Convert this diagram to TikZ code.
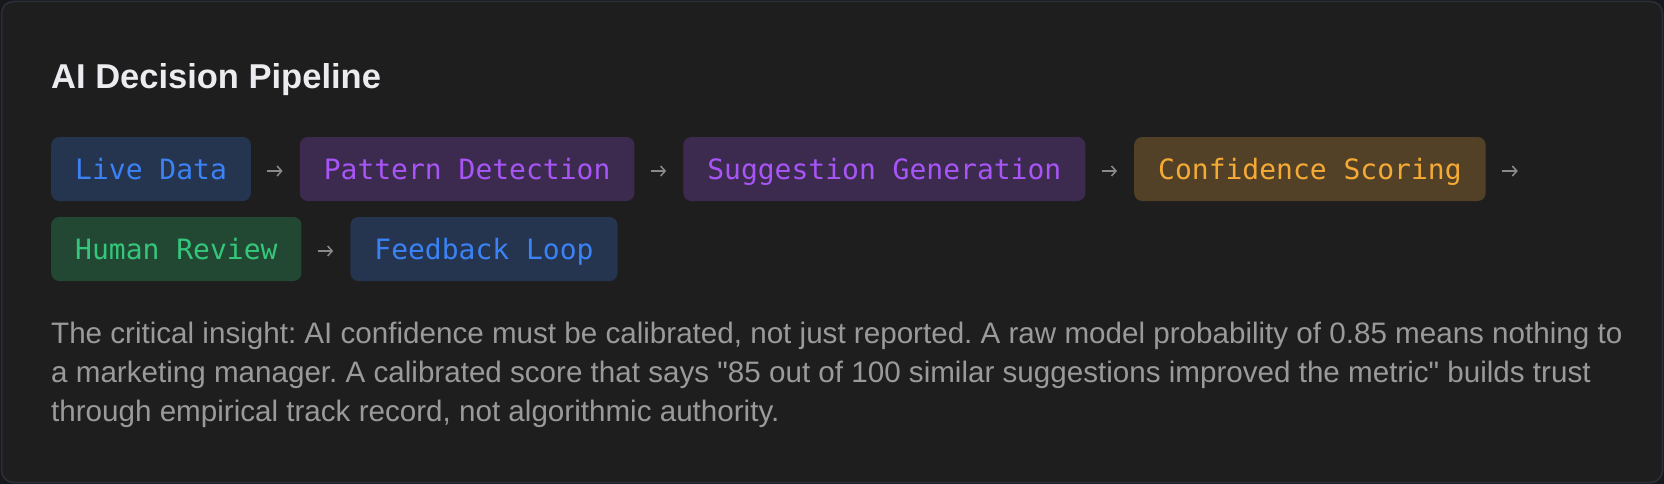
\documentclass[tikz,border=0pt]{standalone}
\usepackage{fontspec}
\setmainfont{Liberation Sans}
\newfontfamily\stagefont{DejaVu Sans Mono}
\usetikzlibrary{positioning,arrows.meta}
\frenchspacing

\definecolor{pagebg}{HTML}{16181C}
\definecolor{cardbg}{HTML}{1E1E1E}
\definecolor{cardline}{HTML}{2C2F36}
\definecolor{titlecol}{HTML}{ECECF0}
\definecolor{bodycol}{HTML}{9A9A9A}
\definecolor{arrowcol}{HTML}{8A8A8A}
\definecolor{bluebg}{HTML}{253550}
\definecolor{bluefg}{HTML}{3B82F6}
\definecolor{purplebg}{HTML}{3D2B4F}
\definecolor{purplefg}{HTML}{A855F7}
\definecolor{amberbg}{HTML}{524127}
\definecolor{amberfg}{HTML}{F5AA35}
\definecolor{greenbg}{HTML}{224833}
\definecolor{greenfg}{HTML}{34C77B}

\begin{document}
\begin{tikzpicture}[x=1pt, y=-1pt, node distance=48.5pt,
	stage/.style={rounded corners=8pt, anchor=west, inner xsep=24pt, inner ysep=0pt,
		minimum height=64pt, text height=20.5pt, text depth=0pt,
		font=\stagefont\fontsize{28pt}{34pt}\selectfont},
	bluestage/.style={stage, fill=bluebg, text=bluefg},
	purplestage/.style={stage, fill=purplebg, text=purplefg},
	amberstage/.style={stage, fill=amberbg, text=amberfg},
	greenstage/.style={stage, fill=greenbg, text=greenfg},
	flow/.style={draw=arrowcol, line width=1.5pt, -{Straight Barb[length=4.5pt,width=10pt]}}]
			%%%%% CARD %%%%%
			
			\fill[pagebg] (0, 0) rectangle (1664, 484);
			\useasboundingbox (0, 0) rectangle (1664, 484);
			\draw[fill=cardbg, draw=cardline, line width=1.5pt, rounded corners=12pt] (1.5, 1.5) rectangle (1662.5, 482.5);
			
			\node[anchor=base west, inner sep=0pt, text=titlecol, font=\bfseries\fontsize{34.5pt}{42pt}\selectfont] (title) at (51, 89) {AI Decision Pipeline};
			
			%%%%% STAGES %%%%%
			
			\node[bluestage] (live) at (51, 169) {Live Data};
			\node[purplestage, right=of live] (pattern) {Pattern Detection};
			\node[purplestage, right=of pattern] (suggest) {Suggestion Generation};
			\node[amberstage, right=of suggest] (conf) {Confidence Scoring};
			\node[greenstage] (human) at (51, 249) {Human Review};
			\node[bluestage, right=of human] (feedback) {Feedback Loop};
			
			\draw[flow] ([shift={(16, 2)}]live.east) -- ([shift={(-17, 2)}]pattern.west);
			\draw[flow] ([shift={(16, 2)}]pattern.east) -- ([shift={(-17, 2)}]suggest.west);
			\draw[flow] ([shift={(16, 2)}]suggest.east) -- ([shift={(-17, 2)}]conf.west);
			\coordinate (wrap) at ([shift={(32, 2)}]conf.east);
			\draw[flow] ([shift={(16, 2)}]conf.east) -- (wrap);
			\draw[flow] ([shift={(16, 2)}]human.east) -- ([shift={(-17, 2)}]feedback.west);
			
			%%%%% NOTE %%%%%
			
			\node[anchor=base west, inner sep=0pt, align=left, text=bodycol, font=\fontsize{29.6pt}{39pt}\selectfont] (note) at (51, 421.5) {The critical insight: AI confidence must be calibrated, not just reported. A raw model probability of 0.85 means nothing to\\a marketing manager. A calibrated score that says \textquotedbl 85 out of 100 similar suggestions improved the metric\textquotedbl{} builds trust\\through empirical track record, not algorithmic authority.};
			
			%%%%% END %%%%%
		\end{tikzpicture}
\end{document}
